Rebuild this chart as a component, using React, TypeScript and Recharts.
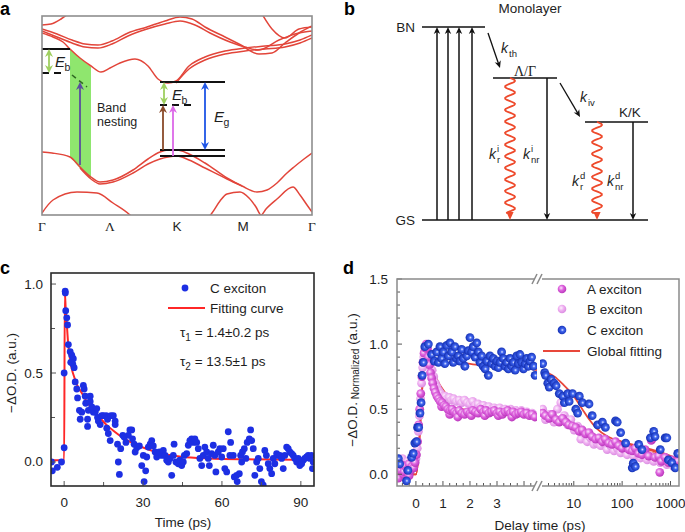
import React from 'react';
import { ComposedChart, Line, Scatter, Area, XAxis, YAxis, ReferenceLine } from 'recharts';

const SANS = '"Liberation Sans", Arial, Helvetica, sans-serif';
const SERIF = '"Liberation Serif", "Times New Roman", serif';
const INK = '#1e1e1e';

type P = [number, number];
const pts = (a: P[]) => a.map(([x, y]) => ({ x, y }));

// ---------- a: band structure (k along the path, energy in a.u.) ----------
const kTicks = [0, 68, 135, 201, 270];
const kLabels = ['Γ', 'Λ', 'K', 'M', 'Γ'];
const bandT1: P[] = [[0, 190], [9, 191], [19, 196], [26, 201]];
const bandT2: P[] = [[0, 186], [15, 181], [30, 175], [43, 171], [56, 170], [70, 174], [86, 182], [105, 188], [123, 194], [138, 198], [150, 196], [163, 188], [183, 178], [197, 171], [217, 161], [230, 162], [243, 172], [257, 182], [270, 189]];
const bandT3: P[] = [[0, 184], [15, 178], [30, 172], [43, 168], [56, 167], [70, 171], [86, 179], [105, 186], [123, 191], [138, 194], [153, 190], [168, 182], [188, 173], [203, 168], [217, 165], [237, 175], [257, 182], [270, 184]];
const bandT4: P[] = [[220, 201], [230, 186], [243, 177], [257, 186], [270, 188]];
const bandC1: P[] = [[0, 182], [11, 178], [21, 173], [28, 166], [38, 157], [49, 149], [59, 143], [68, 147], [78, 152], [93, 156], [106, 149], [116, 136], [126, 132], [134, 134], [147, 149], [163, 158], [183, 164], [203, 167], [223, 169], [243, 171], [258, 175], [270, 180]];
const bandC1b: P[] = [[134, 132], [147, 146], [163, 155], [183, 161], [203, 164], [223, 166], [243, 168], [258, 172], [270, 177]];
const bandV1: P[] = [[0, 63], [10, 62], [28, 58], [38, 48], [49, 38], [58, 33], [71, 35], [91, 45], [106, 56], [118, 63], [126, 65], [135, 65], [147, 61], [163, 52], [185, 37], [200, 29], [215, 23], [225, 25], [235, 32], [245, 42], [252, 48], [262, 56], [270, 62]];
const bandV1b: P[] = [[38, 47], [49, 36], [58, 31], [71, 33], [91, 42], [106, 51], [118, 56], [126, 58], [135, 59], [147, 55], [163, 47], [185, 36], [200, 29]];
const bandV2: P[] = [[0, 2], [11, 15], [35, 23], [55, 22], [71, 12], [88, 0], [92, -4]];
const bandV3: P[] = [[165, -4], [170, 2], [178, 14], [185, 21], [198, 23], [207, 17], [214, 8], [219, 0], [224, 6], [235, 16], [251, 28], [258, 20], [265, 10], [270, 3]];
const bands = [bandT1, bandT2, bandT3, bandT4, bandC1, bandC1b, bandV1, bandV1b, bandV2, bandV3];
const nestingK = [28, 38, 49];
const nestingLow = [58, 47, 36];
const nestingHigh = [166, 157, 148];
const levelsA = [
  { k0: 0, k1: 28, e: 166, dash: false },
  { k0: 0, k1: 23, e: 142, dash: true },
  { k0: 118, k1: 183, e: 133, dash: false },
  { k0: 118, k1: 153, e: 110, dash: true },
  { k0: 118, k1: 183, e: 65, dash: false },
  { k0: 118, k1: 183, e: 59, dash: false },
];
const nestDash: P[] = [[30, 140], [45, 128]];
const arrowsA = [
  { k: 7, e0: 142, e1: 166, color: '#9fcf5f', both: true },
  { k: 38, e0: 50, e1: 133, color: '#5b4d9e', both: false },
  { k: 122, e0: 110, e1: 133, color: '#9fcf5f', both: true },
  { k: 121, e0: 65, e1: 110, color: '#8a4a2a', both: false },
  { k: 131, e0: 59, e1: 110, color: '#dc68e8', both: false },
  { k: 163, e0: 65, e1: 133, color: '#1f55e6', both: true },
];

// ---------- b: level scheme (x in a.u., energy normalised to BN = 1) ----------
const levelsB = [
  { name: 'BN', x0: 17, x1: 80, e: 1 },
  { name: 'LG', x0: 88, x1: 152, e: 0.736 },
  { name: 'KK', x0: 180, x1: 243, e: 0.508 },
  { name: 'GS', x0: 17, x1: 243, e: 0 },
];
const pumpX = [32, 43, 54, 67];
const transfers: [P, P][] = [[[83, 0.969], [95, 0.788]], [[155, 0.71], [175, 0.534]]];
const radiative = [{ x: 105, e: 0.736 }, { x: 192, e: 0.508 }];
const nonRadiative = [{ x: 142, e: 0.736 }, { x: 228, e: 0.508 }];

// ---------- c: C exciton kinetics ----------
const cTicksX = [0, 15, 30, 45, 60, 75, 90];
const cTicksY = [0, 0.25, 0.5, 0.75, 1];
const cExciton: P[] = [[-4.5, -0.05], [-4.8, 0.0], [-2.6, -0.03], [-1, 0.0], [0, 0.08], [0, 0.5], [0.4, 0.96], [0.45, 0.95], [0.6, 0.85], [1.0, 0.81], [1.3, 0.77], [1.6, 0.66], [2.3, 0.62], [2.9, 0.6], [3.5, 0.58], [3.3, 0.55], [3.8, 0.53], [2.5, 0.56], [4.2, 0.45], [4.8, 0.41], [5.1, 0.36], [5.8, 0.29], [6.1, 0.24], [6.7, 0.28], [7.3, 0.43], [7.6, 0.41], [8, 0.37], [8.2, 0.33], [8.9, 0.24], [8.9, 0.2], [9.2, 0.29], [9.9, 0.37], [9.9, 0.34], [10.5, 0.31], [11.1, 0.28], [11.8, 0.28], [12.4, 0.3], [12.7, 0.25], [13, 0.23], [13.7, 0.21], [14.3, 0.26], [14.9, 0.26], [16, 0.26], [16.5, 0.24], [16.2, 0.19], [16.8, 0.16], [17.5, 0.12], [17.8, 0.26], [18.7, 0.26], [19.4, 0.23], [19.4, 0.21], [20.3, 0.1], [20.6, 0.0], [21, -0.07], [21.5, 0.075], [22.3, 0.15], [22.8, 0.14], [23.5, 0.11], [24.4, 0.15], [25, 0.18], [25.7, 0.18], [26, 0.13], [26.6, 0.1], [27, 0.056], [27.6, 0.08], [28.6, 0.09], [29.5, -0.02], [30.1, 0.037], [30.4, -0.11], [31, -0.05], [31.4, 0.028], [32, 0.084], [32.7, 0.1], [33.3, 0.12], [33.9, 0.09], [34.6, 0.056], [35.2, 0.028], [36.2, 0.056], [37.1, 0.037], [37.7, 0.065], [38.4, 0.037], [39, 0.01], [39.6, 0.0], [40.3, 0.02], [40.9, -0.075], [41.5, 0.037], [41.8, 0.1], [42.5, 0.0], [43.4, -0.01], [44, 0.01], [44.7, -0.02], [45.3, 0.0], [45.7, 0.037], [46.6, 0.047], [47.2, 0.094], [47.8, 0.12], [48.5, 0.13], [49.1, 0.11], [49.7, 0.13], [50.4, 0.11], [51, 0.075], [51.6, 0.02], [52.3, -0.02], [52.9, 0.037], [53.5, 0.084], [54.2, 0.056], [54.8, 0.02], [55.2, -0.02], [56.1, 0.047], [56.7, 0.094], [57.3, 0.037], [57.7, -0.056], [58.6, 0.056], [59.2, 0.075], [59.9, 0.028], [60.5, 0.075], [61.1, -0.037], [61.8, -0.056], [62.4, 0.17], [63, 0.037], [63.3, 0.11], [64.3, 0.037], [64.7, -0.084], [65.6, -0.075], [65.8, -0.11], [66.6, -0.066], [67.1, 0.037], [67.5, 0.0], [67.8, 0.056], [68.5, 0.075], [69.1, 0.02], [69.6, 0.11], [70.4, 0.13], [70.9, 0.18], [71.3, 0.12], [71.9, 0.075], [72.5, -0.075], [73.2, 0.0], [73.8, 0.02], [74.4, -0.037], [75, -0.11], [75.7, -0.13], [76.3, 0.065], [76.9, 0.037], [77.6, -0.01], [78.2, -0.037], [78.9, -0.066], [79.5, 0.02], [80.1, -0.01], [80.8, 0.047], [81.4, 0.037], [82, 0.037], [82.7, 0.02], [83.3, -0.037], [83.9, 0.037], [84.6, 0.084], [85.2, 0.075], [85.8, 0.056], [86.5, 0.047], [87.1, 0.037], [87.7, 0.02], [88.4, 0.0], [89, 0.02], [89.6, -0.02], [90.3, -0.01], [90.9, 0.01], [91.5, 0.02], [92.2, 0.028], [92.8, 0.037], [93.4, 0.02], [94.1, 0.037], [94.4, -0.037], [94.7, 0.0]];
const cFit: P[] = [[-5, 0.01], [0, 0.01], [0.25, 0.95], [0.6, 0.86], [0.9, 0.8], [1.5, 0.67], [2.2, 0.58], [2.8, 0.53], [4, 0.47], [5, 0.43], [6.6, 0.39], [9, 0.33], [12.9, 0.26], [16, 0.21], [19.2, 0.17], [22, 0.14], [25.5, 0.11], [32, 0.07], [38, 0.045], [44.5, 0.03], [55, 0.02], [70, 0.015], [95, 0.012]];

// ---------- d: A, B, C excitons, linear part (ps) and log part (ps) ----------
const dTicksEarly = [-0.5, -0.25, 0, 0.25, 0.5, 0.75, 1, 1.25, 1.5, 1.75, 2, 2.25, 2.5, 2.75, 3, 3.25, 3.5, 3.75, 4, 4.25];
const dLabelsEarly = [0, 1, 2, 3];
const dTicksLate = [3, 4, 5, 6, 7, 8, 9, 10, 20, 30, 40, 50, 60, 70, 80, 90, 100, 200, 300, 400, 500, 600, 700, 800, 900, 1000];
const dLabelsLate = [10, 100, 1000];
const dTicksY = [0, 0.1, 0.2, 0.3, 0.4, 0.5, 0.6, 0.7, 0.8, 0.9, 1, 1.1, 1.2, 1.3, 1.4, 1.5];
const aEarly: P[] = [[-0.68, 0.05], [-0.65, -0.03], [-0.62, 0.08], [-0.55, 0.03], [-0.5, 0.07], [-0.45, 0.0], [-0.44, 0.02], [-0.38, 0.06], [-0.32, 0.04], [-0.26, 0.08], [-0.25, -0.01], [-0.2, 0.03], [-0.14, 0.06], [-0.08, 0.05], [-0.03, 0.09], [0.02, 0.15], [0.06, 0.25], [0.1, 0.38], [0.14, 0.5], [0.18, 0.62], [0.22, 0.75], [0.26, 0.86], [0.3, 0.93], [0.34, 0.97], [0.38, 1.0], [0.42, 0.97], [0.46, 0.9], [0.5, 0.84], [0.54, 0.78], [0.58, 0.74], [0.62, 0.7], [0.67, 0.66], [0.72, 0.63], [0.78, 0.6], [0.84, 0.58], [0.9, 0.56], [0.95, 0.52], [0.97, 0.55], [1.04, 0.53], [1.11, 0.52], [1.18, 0.5], [1.25, 0.46], [1.26, 0.49], [1.34, 0.5], [1.42, 0.48], [1.5, 0.47], [1.55, 0.44], [1.6, 0.49], [1.7, 0.47], [1.8, 0.46], [1.9, 0.48], [2.0, 0.47], [2.05, 0.45], [2.1, 0.49], [2.2, 0.48], [2.3, 0.47], [2.4, 0.5], [2.5, 0.48], [2.55, 0.45], [2.6, 0.49], [2.7, 0.47], [2.8, 0.48], [2.9, 0.49], [3.0, 0.47], [3.05, 0.45], [3.1, 0.48], [3.2, 0.46], [3.3, 0.48], [3.4, 0.49], [3.5, 0.47], [3.55, 0.44], [3.6, 0.48], [3.7, 0.46], [3.8, 0.47], [3.9, 0.48], [4.0, 0.46], [4.1, 0.47], [4.2, 0.45], [4.3, 0.46], [4.4, 0.44]];
const bEarly: P[] = [[-0.7, 0.1], [-0.6, 0.05], [-0.5, 0.12], [-0.4, 0.08], [-0.3, 0.1], [-0.2, 0.07], [-0.1, 0.1], [0, 0.12], [0.05, 0.2], [0.09, 0.33], [0.13, 0.45], [0.17, 0.58], [0.21, 0.7], [0.25, 0.82], [0.29, 0.9], [0.33, 0.95], [0.37, 0.98], [0.41, 0.99], [0.45, 0.95], [0.5, 0.9], [0.55, 0.85], [0.6, 0.8], [0.66, 0.75], [0.72, 0.7], [0.78, 0.67], [0.85, 0.64], [0.92, 0.62], [1.0, 0.6], [1.08, 0.6], [1.16, 0.58], [1.24, 0.59], [1.32, 0.57], [1.4, 0.58], [1.5, 0.56], [1.6, 0.57], [1.7, 0.55], [1.8, 0.57], [1.9, 0.55], [2.0, 0.54], [2.1, 0.56], [2.2, 0.53], [2.3, 0.54], [2.4, 0.52], [2.5, 0.53], [2.6, 0.51], [2.7, 0.52], [2.8, 0.5], [2.9, 0.51], [3.0, 0.5], [3.1, 0.51], [3.2, 0.49], [3.3, 0.5], [3.4, 0.49], [3.5, 0.5], [3.6, 0.48], [3.7, 0.49], [3.8, 0.48], [3.9, 0.49], [4.0, 0.47], [4.1, 0.48], [4.2, 0.46], [4.3, 0.47], [4.4, 0.45]];
const cEarly: P[] = [[-0.65, 0.12], [-0.6, 0.08], [-0.35, -0.05], [-0.3, 0.03], [-0.16, 0.13], [-0.1, 0.16], [-0.04, 0.24], [0.02, 0.25], [0.06, 0.36], [0.1, 0.36], [0.15, 0.47], [0.19, 0.55], [0.23, 0.76], [0.27, 0.86], [0.33, 0.98], [0.46, 1.0], [0.58, 0.92], [0.68, 0.87], [0.77, 0.94], [0.83, 0.86], [0.89, 0.98], [0.95, 0.89], [1.01, 0.94], [1.07, 0.85], [1.14, 0.99], [1.2, 0.91], [1.26, 1.01], [1.32, 0.94], [1.38, 0.86], [1.44, 0.98], [1.5, 0.89], [1.57, 0.91], [1.63, 0.87], [1.69, 0.96], [1.75, 0.89], [1.81, 0.83], [1.88, 0.91], [1.94, 0.95], [2.0, 1.05], [2.06, 0.94], [2.12, 0.98], [2.19, 0.9], [2.25, 1.01], [2.31, 0.94], [2.37, 0.86], [2.43, 0.91], [2.49, 0.83], [2.56, 0.81], [2.62, 0.87], [2.68, 0.76], [2.74, 0.91], [2.8, 0.85], [2.86, 0.89], [2.93, 0.83], [2.99, 0.87], [3.05, 0.82], [3.11, 0.86], [3.17, 0.94], [3.23, 0.89], [3.3, 0.83], [3.36, 0.86], [3.42, 0.81], [3.48, 0.89], [3.54, 0.83], [3.6, 0.86], [3.67, 0.8], [3.73, 0.91], [3.79, 0.85], [3.85, 0.92], [3.91, 0.86], [3.98, 0.81], [4.04, 0.85], [4.1, 0.89], [4.16, 0.83], [4.22, 0.87], [4.28, 0.9], [4.35, 0.83], [4.41, 0.76]];
const aLate: P[] = [[2.27, 0.47], [2.6, 0.45], [3.1, 0.43], [3.6, 0.46], [4.3, 0.42], [5, 0.4], [5.9, 0.43], [6.9, 0.4], [7.9, 0.38], [9.4, 0.37], [11, 0.36], [13, 0.33], [15, 0.34], [17.6, 0.31], [20.6, 0.32], [24, 0.29], [28.5, 0.27], [33, 0.28], [39, 0.25], [45, 0.27], [53, 0.24], [62, 0.23], [73, 0.25], [85, 0.22], [100, 0.2], [118, 0.23], [138, 0.19], [162, 0.18], [187, 0.2], [220, 0.16], [257, 0.15], [300, 0.19], [354, 0.14], [400, 0.26], [412, 0.27], [480, 0.13], [570, 0.14], [600, 0.015], [650, 0.1], [776, 0.13], [906, 0.09], [1060, 0.11], [1250, 0.075], [1415, 0.1]];
const bLate: P[] = [[2.27, 0.5], [2.6, 0.42], [3.1, 0.46], [3.9, 0.4], [4.6, 0.5], [5.4, 0.55], [6.4, 0.45], [7.5, 0.38], [8.7, 0.42], [10.2, 0.34], [12, 0.37], [14, 0.27], [16.3, 0.32], [19, 0.25], [22, 0.28], [26, 0.23], [30, 0.24], [36, 0.22], [42, 0.24], [49, 0.19], [58, 0.22], [68, 0.18], [79, 0.2], [93, 0.165], [108, 0.19], [127, 0.15], [150, 0.18], [173, 0.14], [205, 0.165], [240, 0.125], [280, 0.15], [330, 0.11], [384, 0.14], [450, 0.1], [530, 0.125], [615, 0.09], [720, 0.11], [840, 0.075], [980, 0.1], [1150, 0.06], [1350, 0.09]];
const cLate: P[] = [[2.27, 0.85], [2.5, 0.78], [2.6, 0.76], [2.9, 0.7], [3.1, 0.67], [3.4, 0.73], [3.9, 0.7], [4.3, 0.68], [5, 0.62], [5.9, 0.6], [6.4, 0.55], [7.5, 0.62], [8, 0.56], [9.4, 0.62], [11, 0.5], [12, 0.47], [13, 0.6], [15, 0.55], [20.6, 0.54], [24, 0.45], [31, 0.38], [39, 0.4], [45, 0.36], [73, 0.41], [79, 0.4], [93, 0.32], [118, 0.24], [162, 0.05], [170, 0.085], [187, 0.06], [220, 0.23], [257, 0.19], [384, 0.28], [450, 0.33], [478, 0.29], [615, 0.19], [776, 0.28], [840, 0.28], [906, 0.11], [1060, 0.09], [1250, 0.05], [1415, 0.16]];
const fitAEarly: P[] = [[-0.7, 0.0], [0, 0.0], [0.38, 0.99], [0.5, 0.84], [0.58, 0.76], [0.77, 0.65], [0.95, 0.58], [1.2, 0.53], [1.69, 0.5], [2.31, 0.49], [2.93, 0.49], [3.54, 0.48], [4.48, 0.47]];
const fitBEarly: P[] = [[-0.7, 0.0], [0, 0.0], [0.38, 0.99], [0.5, 0.9], [0.58, 0.83], [0.77, 0.73], [1.07, 0.63], [1.69, 0.55], [2.31, 0.53], [2.93, 0.5], [3.54, 0.49], [4.48, 0.47]];
const fitCEarly: P[] = [[0.38, 0.99], [0.58, 0.95], [1.07, 0.9], [1.69, 0.86], [2.31, 0.84], [2.93, 0.83], [3.54, 0.83], [4.48, 0.8]];
const fitALate: P[] = [[2.27, 0.45], [4, 0.43], [5.9, 0.4], [9, 0.35], [13, 0.31], [18, 0.26], [24, 0.23], [39, 0.2], [85, 0.19], [187, 0.18], [412, 0.165], [1000, 0.12], [1500, 0.09]];
const fitBLate: P[] = [[2.27, 0.46], [4, 0.44], [5.9, 0.42], [11, 0.37], [16, 0.32], [20.6, 0.29], [39, 0.25], [85, 0.24], [187, 0.22], [412, 0.19], [1180, 0.13], [1500, 0.11]];
const fitCLate: P[] = [[2.27, 0.79], [4, 0.75], [6, 0.69], [10, 0.6], [15, 0.5], [20, 0.43], [30, 0.35], [50, 0.29], [100, 0.25], [200, 0.22], [500, 0.17], [1000, 0.13], [1500, 0.1]];

// ---------- helpers ----------
type Box = { x0: number; y0: number; x1: number; y1: number };
type Pad = { t: number; r: number; b: number; l: number };

// xh / yw: room taken by a visible x axis (below) and y axis (left) inside the pad
const Chart = ({ box, pad, xh = 0, yw = 0, children }: { box: Box; pad: Pad; xh?: number; yw?: number; children: React.ReactNode }) => (
  <div style={{ position: 'absolute', left: box.x0 - pad.l, top: box.y0 - pad.t }}>
    <ComposedChart
      width={box.x1 - box.x0 + pad.l + pad.r}
      height={box.y1 - box.y0 + pad.t + pad.b}
      margin={{ top: pad.t, right: pad.r, bottom: pad.b - xh, left: pad.l - yw }}
    >
      {children}
    </ComposedChart>
  </div>
);

const near = (v: number, step: number) => Math.abs(v / step - Math.round(v / step)) < 1e-6;

const xTick = (label: (v: number) => string | null, len: (v: number) => number, dy: number, fam: (v: number) => string = () => SANS) =>
  (p: any) => {
    const v = p.payload.value;
    const lab = label(v);
    const l = len(v);
    return (
      <g>
        {l > 0 && <line x1={p.x} x2={p.x} y1={p.y} y2={p.y - l} stroke="#555" strokeWidth={1} />}
        {lab && (
          <text x={p.x} y={p.y + dy} textAnchor="middle" dominantBaseline="central" fontFamily={fam(v)} fontSize={13.5} fill={INK}>
            {lab}
          </text>
        )}
      </g>
    );
  };

const yTick = (label: (v: number) => string | null, len: (v: number) => number, dx: number) => (p: any) => {
  const v = p.payload.value;
  const lab = label(v);
  const l = len(v);
  return (
    <g>
      {l > 0 && <line x1={p.x} x2={p.x + l} y1={p.y} y2={p.y} stroke="#555" strokeWidth={1} />}
      {lab && (
        <text x={p.x - dx} y={p.y} textAnchor="end" dominantBaseline="central" fontFamily={SANS} fontSize={13.5} fill={INK}>
          {lab}
        </text>
      )}
    </g>
  );
};

const arrow = (color: string, both: boolean, w = 1.6, hw = 3.6, hl = 7) => (p: any) => {
  const { x1, y1, x2, y2 } = p;
  const dx = x2 - x1;
  const dy = y2 - y1;
  const L = Math.hypot(dx, dy) || 1;
  const ux = dx / L;
  const uy = dy / L;
  const head = (tx: number, ty: number, vx: number, vy: number) =>
    `${tx},${ty} ${tx - vx * hl - vy * hw},${ty - vy * hl + vx * hw} ${tx - vx * hl * 0.7},${ty - vy * hl * 0.7} ${tx - vx * hl + vy * hw},${ty - vy * hl - vx * hw}`;
  const sx = both ? x1 + ux * hl * 0.6 : x1;
  const sy = both ? y1 + uy * hl * 0.6 : y1;
  return (
    <g>
      <line x1={sx} y1={sy} x2={x2 - ux * hl * 0.6} y2={y2 - uy * hl * 0.6} stroke={color} strokeWidth={w} />
      <polygon points={head(x2, y2, ux, uy)} fill={color} />
      {both && <polygon points={head(x1, y1, -ux, -uy)} fill={color} />}
    </g>
  );
};

const wavy = (color: string) => (p: any) => {
  const { x1, y1, y2 } = p;
  const top = Math.min(y1, y2);
  const bottom = Math.max(y1, y2);
  const end = bottom - 7;
  let d = `M${x1},${top}`;
  for (let y = top; y <= end; y += 1) {
    d += ` L${(x1 + 5 * Math.sin(((y - top) / 11.6) * 2 * Math.PI)).toFixed(2)},${y}`;
  }
  d += ` L${x1},${end}`;
  return (
    <g>
      <path d={d} fill="none" stroke={color} strokeWidth={1.8} />
      <polygon points={`${x1 - 3.6},${end - 1} ${x1 + 3.6},${end - 1} ${x1},${bottom}`} fill={color} />
    </g>
  );
};

const ball = (id: string, r: number) => (p: any) =>
  p.cx == null ? <g /> : <circle cx={p.cx} cy={p.cy} r={r} fill={`url(#${id})`} />;

const flatDot = (color: string, r: number) => (p: any) =>
  p.cx == null ? <g /> : <circle cx={p.cx} cy={p.cy} r={r} fill={color} />;

// ---------- layout ----------
const boxA: Box = { x0: 42, y0: 16, x1: 312, y1: 215 };
const boxB: Box = { x0: 405, y0: 27, x1: 660, y1: 220 };
const boxC: Box = { x0: 51, y0: 273, x1: 314, y1: 486 };
const boxDL: Box = { x0: 397, y0: 279, x1: 537, y1: 486 };
const boxDR: Box = { x0: 540, y0: 279, x1: 679, y1: 486 };

const RED = '#e8473a';
const dY = [-0.09, 1.5];
const kFont = (v: number) => (['K', 'M'].includes(kLabels[kTicks.indexOf(v)]) ? SANS : SERIF);

function PanelA() {
  return (
    <Chart box={boxA} pad={{ t: 2, r: 8, b: 22, l: 8 }} xh={22}>
      <XAxis
        type="number"
        dataKey="x"
        domain={[0, 270]}
        allowDataOverflow
        ticks={kTicks}
        interval={0}
        height={22}
        tickSize={0}
        tickMargin={0}
        tickLine={false}
        axisLine={false}
        tick={xTick((v) => kLabels[kTicks.indexOf(v)], () => 0, 11, kFont)}
      />
      <YAxis type="number" dataKey="y" domain={[0, 199]} allowDataOverflow hide />
      {bands.map((b, i) => (
        <Line key={i} data={pts(b)} dataKey="y" type="monotone" stroke="#e2453a" strokeWidth={1.5} dot={false} activeDot={false} isAnimationActive={false} />
      ))}
      <Area
        data={nestingK.map((k, i) => ({ x: k, y: [nestingLow[i], nestingHigh[i]] }))}
        dataKey="y"
        type="linear"
        fill="#7fe35a"
        fillOpacity={0.88}
        stroke="#3d8a2a"
        strokeWidth={0}
        isAnimationActive={false}
      />
      {levelsA.map((l, i) => (
        <ReferenceLine key={i} segment={[{ x: l.k0, y: l.e }, { x: l.k1, y: l.e }]} stroke="#111" strokeWidth={2} strokeDasharray={l.dash ? '7 5' : undefined} ifOverflow="visible" />
      ))}
      <ReferenceLine segment={nestDash.map(([x, y]) => ({ x, y }))} stroke="#2f6b22" strokeWidth={1.6} strokeDasharray="5 4" ifOverflow="visible" />
      {arrowsA.map((a, i) => (
        <ReferenceLine key={i} segment={[{ x: a.k, y: a.e0 }, { x: a.k, y: a.e1 }]} ifOverflow="visible" shape={arrow(a.color, a.both, 1.8, 4, 8)} />
      ))}
    </Chart>
  );
}

function PanelB() {
  return (
    <Chart box={boxB} pad={{ t: 8, r: 8, b: 8, l: 8 }}>
      <XAxis type="number" dataKey="x" domain={[0, 255]} hide />
      <YAxis type="number" dataKey="y" domain={[0, 1]} hide />
      {levelsB.map((l) => (
        <Line key={l.name} data={pts([[l.x0, l.e], [l.x1, l.e]])} dataKey="y" type="linear" stroke="#111" strokeWidth={1.4} dot={false} activeDot={false} isAnimationActive={false} />
      ))}
      {pumpX.map((x) => (
        <ReferenceLine key={x} segment={[{ x, y: 0 }, { x, y: 1 }]} ifOverflow="visible" shape={arrow('#111', false, 1.5, 3.2, 7)} />
      ))}
      {transfers.map((t, i) => (
        <ReferenceLine key={i} segment={t.map(([x, y]) => ({ x, y }))} ifOverflow="visible" shape={arrow('#111', false, 1.3, 3.2, 7)} />
      ))}
      {radiative.map((r) => (
        <ReferenceLine key={r.x} segment={[{ x: r.x, y: r.e }, { x: r.x, y: 0 }]} ifOverflow="visible" shape={wavy('#ee4a2c')} />
      ))}
      {nonRadiative.map((r) => (
        <ReferenceLine key={r.x} segment={[{ x: r.x, y: r.e }, { x: r.x, y: 0 }]} ifOverflow="visible" shape={arrow('#111', false, 1.5, 3.2, 7)} />
      ))}
    </Chart>
  );
}

function PanelC() {
  return (
    <Chart box={boxC} pad={{ t: 10, r: 8, b: 28, l: 34 }} xh={28} yw={34}>
      <XAxis
        type="number"
        dataKey="x"
        domain={[-5, 95]}
        allowDataOverflow
        ticks={cTicksX}
        interval={0}
        height={28}
        tickSize={0}
        tickMargin={0}
        tickLine={false}
        axisLine={false}
        tick={xTick((v) => (near(v, 30) ? String(v) : null), (v) => (near(v, 30) ? 5 : 4), 16)}
      />
      <YAxis
        type="number"
        dataKey="y"
        domain={[-0.135, 1.062]}
        allowDataOverflow
        ticks={cTicksY}
        interval={0}
        width={34}
        tickSize={0}
        tickMargin={0}
        tickLine={false}
        axisLine={false}
        tick={yTick((v) => (near(v, 0.5) ? v.toFixed(1) : null), (v) => (near(v, 0.5) ? 5 : 4), 8)}
      />
      <Scatter data={pts(cExciton)} dataKey="y" shape={flatDot('#1d2fe3', 3.4)} isAnimationActive={false} />
      <Line data={pts(cFit)} dataKey="y" type="monotone" stroke="#ff2727" strokeWidth={2} dot={false} activeDot={false} isAnimationActive={false} />
    </Chart>
  );
}

function PanelDEarly() {
  return (
    <Chart box={boxDL} pad={{ t: 10, r: 1, b: 28, l: 34 }} xh={28} yw={34}>
      <XAxis
        type="number"
        dataKey="x"
        domain={[-0.7, 4.48]}
        allowDataOverflow
        ticks={dTicksEarly}
        interval={0}
        height={28}
        tickSize={0}
        tickMargin={0}
        tickLine={false}
        axisLine={false}
        tick={xTick((v) => (dLabelsEarly.includes(v) ? String(v) : null), (v) => (near(v, 1) ? 5 : 3), 17)}
      />
      <YAxis
        type="number"
        dataKey="y"
        domain={dY}
        allowDataOverflow
        ticks={dTicksY}
        interval={0}
        width={34}
        tickSize={0}
        tickMargin={0}
        tickLine={false}
        axisLine={false}
        tick={yTick((v) => (near(v, 0.5) ? v.toFixed(1) : null), (v) => (near(v, 0.5) ? 5 : 3), 9)}
      />
      <Scatter data={pts(bEarly)} dataKey="y" shape={ball('gB', 4.4)} isAnimationActive={false} />
      <Scatter data={pts(aEarly)} dataKey="y" shape={ball('gA', 4.4)} isAnimationActive={false} />
      <Scatter data={pts(cEarly)} dataKey="y" shape={ball('gC', 4.4)} isAnimationActive={false} />
      {[fitAEarly, fitBEarly, fitCEarly].map((f, i) => (
        <Line key={i} data={pts(f)} dataKey="y" type="monotone" stroke={RED} strokeWidth={1.8} dot={false} activeDot={false} isAnimationActive={false} />
      ))}
    </Chart>
  );
}

function PanelDLate() {
  return (
    <Chart box={boxDR} pad={{ t: 10, r: 6, b: 28, l: 1 }} xh={28}>
      <XAxis
        type="number"
        dataKey="x"
        scale="log"
        domain={[2, 1500]}
        allowDataOverflow
        ticks={dTicksLate}
        interval={0}
        height={28}
        tickSize={0}
        tickMargin={0}
        tickLine={false}
        axisLine={false}
        tick={xTick((v) => (dLabelsLate.includes(v) ? String(v) : null), (v) => (dLabelsLate.includes(v) ? 5 : 3), 17)}
      />
      <YAxis type="number" dataKey="y" domain={dY} allowDataOverflow hide />
      <Scatter data={pts(bLate)} dataKey="y" shape={ball('gB', 4.4)} isAnimationActive={false} />
      <Scatter data={pts(aLate)} dataKey="y" shape={ball('gA', 4.4)} isAnimationActive={false} />
      <Scatter data={pts(cLate)} dataKey="y" shape={ball('gC', 4.4)} isAnimationActive={false} />
      {[fitALate, fitBLate, fitCLate].map((f, i) => (
        <Line key={i} data={pts(f)} dataKey="y" type="monotone" stroke={RED} strokeWidth={1.8} dot={false} activeDot={false} isAnimationActive={false} />
      ))}
    </Chart>
  );
}

const Txt = (props: any) => <text fontFamily={SANS} fontSize={13.5} fill={INK} {...props} />;

const KRate = ({ x, y, sup, sub }: { x: number; y: number; sup?: string; sub?: string }) => (
  <g fontFamily={SANS} fill={INK}>
    <text x={x} y={y} fontSize={14} fontStyle="italic">k</text>
    {sup && <text x={x + 8} y={y - 7} fontSize={9.5}>{sup}</text>}
    {sub && <text x={x + 8} y={y + 4} fontSize={9.5}>{sub}</text>}
  </g>
);

const ESym = ({ x, y, sub }: { x: number; y: number; sub: string }) => (
  <g fontFamily={SANS} fill={INK}>
    <text x={x} y={y} fontSize={15} fontStyle="italic">E</text>
    <text x={x + 9.5} y={y + 4} fontSize={10.5}>{sub}</text>
  </g>
);

function Overlay() {
  return (
    <svg width={685} height={532} style={{ position: 'absolute', left: 0, top: 0, pointerEvents: 'none' }}>
      <defs>
        <radialGradient id="gA" cx="40%" cy="38%" r="65%">
          <stop offset="0%" stopColor="#fbe3fb" />
          <stop offset="45%" stopColor="#de63de" />
          <stop offset="100%" stopColor="#b733b9" />
        </radialGradient>
        <radialGradient id="gB" cx="40%" cy="38%" r="65%">
          <stop offset="0%" stopColor="#fdf0fd" />
          <stop offset="50%" stopColor="#eeadf0" />
          <stop offset="100%" stopColor="#d98ae0" />
        </radialGradient>
        <radialGradient id="gC" cx="55%" cy="50%" r="60%">
          <stop offset="0%" stopColor="#e3e9ff" />
          <stop offset="30%" stopColor="#3f64ee" />
          <stop offset="100%" stopColor="#0b25a8" />
        </radialGradient>
      </defs>

      {/* panel letters */}
      <g fontFamily={SANS} fontWeight="bold" fontSize={18} fill="#000">
        <text x={0} y={15}>a</text>
        <text x={344} y={15}>b</text>
        <text x={0} y={274}>c</text>
        <text x={343} y={274}>d</text>
      </g>

      {/* a */}
      <rect x={boxA.x0} y={boxA.y0} width={boxA.x1 - boxA.x0} height={boxA.y1 - boxA.y0} fill="none" stroke="#8e8e8e" strokeWidth={1.6} />
      <ESym x={55} y={67} sub="b" />
      <ESym x={172} y={100} sub="b" />
      <ESym x={214} y={122} sub="g" />
      <Txt x={97} y={112} fontSize={12.5}>Band</Txt>
      <Txt x={97} y={126} fontSize={12.5}>nesting</Txt>

      {/* b */}
      <Txt x={530} y={13} textAnchor="middle">Monolayer</Txt>
      <Txt x={415} y={27} textAnchor="end" dominantBaseline="central">BN</Txt>
      <Txt x={415} y={220} textAnchor="end" dominantBaseline="central">GS</Txt>
      <text x={525} y={76} textAnchor="middle" fontFamily={SERIF} fontSize={14} fill={INK}>Λ/Γ</text>
      <Txt x={630} y={117} textAnchor="middle">K/K</Txt>
      <KRate x={501} y={53} sub="th" />
      <KRate x={580} y={102} sub="iv" />
      <KRate x={489} y={159} sup="i" sub="r" />
      <KRate x={523} y={159} sup="i" sub="nr" />
      <KRate x={572} y={186} sup="d" sub="r" />
      <KRate x={607} y={186} sup="d" sub="nr" />

      {/* c */}
      <rect x={boxC.x0} y={boxC.y0} width={boxC.x1 - boxC.x0} height={boxC.y1 - boxC.y0} fill="none" stroke="#2a2a2a" strokeWidth={1.6} />
      <Txt transform="translate(11,373) rotate(-90)" textAnchor="middle" dominantBaseline="central">−ΔO.D. (a.u.)</Txt>
      <Txt x={183} y={522} textAnchor="middle" dominantBaseline="central">Time (ps)</Txt>
      <circle cx={185} cy={288} r={3.4} fill="#1d2fe3" />
      <Txt x={210} y={288} dominantBaseline="central">C exciton</Txt>
      <line x1={168} x2={205} y1={308} y2={308} stroke="#ff2727" strokeWidth={2} />
      <Txt x={210} y={308} dominantBaseline="central">Fitting curve</Txt>
      <Txt x={180} y={337}>
        τ<tspan fontSize={10} dy={4}>1</tspan>
        <tspan dy={-4}> = 1.4±0.2 ps</tspan>
      </Txt>
      <Txt x={180} y={366}>
        τ<tspan fontSize={10} dy={4}>2</tspan>
        <tspan dy={-4}> = 13.5±1 ps</tspan>
      </Txt>

      {/* d */}
      <g stroke="#8a8a8a" strokeWidth={1.5} fill="none">
        <polyline points={`${boxDL.x1 - 2},${boxDL.y0} ${boxDL.x0},${boxDL.y0} ${boxDL.x0},${boxDL.y1} ${boxDL.x1 - 2},${boxDL.y1}`} />
        <polyline points={`${boxDR.x0 + 2},${boxDR.y0} ${boxDR.x1},${boxDR.y0} ${boxDR.x1},${boxDR.y1} ${boxDR.x0 + 2},${boxDR.y1}`} />
        {[boxDL.y0, boxDL.y1].map((y) => (
          <g key={y}>
            <line x1={532} y1={y + 5} x2={537} y2={y - 5} />
            <line x1={537} y1={y + 5} x2={542} y2={y - 5} />
          </g>
        ))}
      </g>
      <Txt transform="translate(352,380) rotate(-90)" textAnchor="middle" dominantBaseline="central">
        −ΔO.D.<tspan fontSize={10} dy={3}> Normalized</tspan>
        <tspan dy={-3}> (a.u.)</tspan>
      </Txt>
      <Txt x={540} y={525} textAnchor="middle" dominantBaseline="central">Delay time (ps)</Txt>
      <circle cx={562} cy={289} r={4.3} fill="url(#gA)" />
      <circle cx={562} cy={309} r={4.3} fill="url(#gB)" />
      <circle cx={562} cy={330} r={4.3} fill="url(#gC)" />
      <line x1={543} x2={580} y1={351} y2={351} stroke={RED} strokeWidth={1.8} />
      <Txt x={587} y={289} dominantBaseline="central">A exciton</Txt>
      <Txt x={587} y={309} dominantBaseline="central">B exciton</Txt>
      <Txt x={587} y={330} dominantBaseline="central">C exciton</Txt>
      <Txt x={587} y={351} dominantBaseline="central">Global fitting</Txt>
    </svg>
  );
}

export default function App() {
  return (
    <div style={{ position: 'absolute', left: 0, top: 0, width: 685, height: 532, background: '#fff', overflow: 'hidden', fontFamily: SANS }}>
      <PanelA />
      <PanelB />
      <PanelC />
      <PanelDEarly />
      <PanelDLate />
      <Overlay />
    </div>
  );
}
